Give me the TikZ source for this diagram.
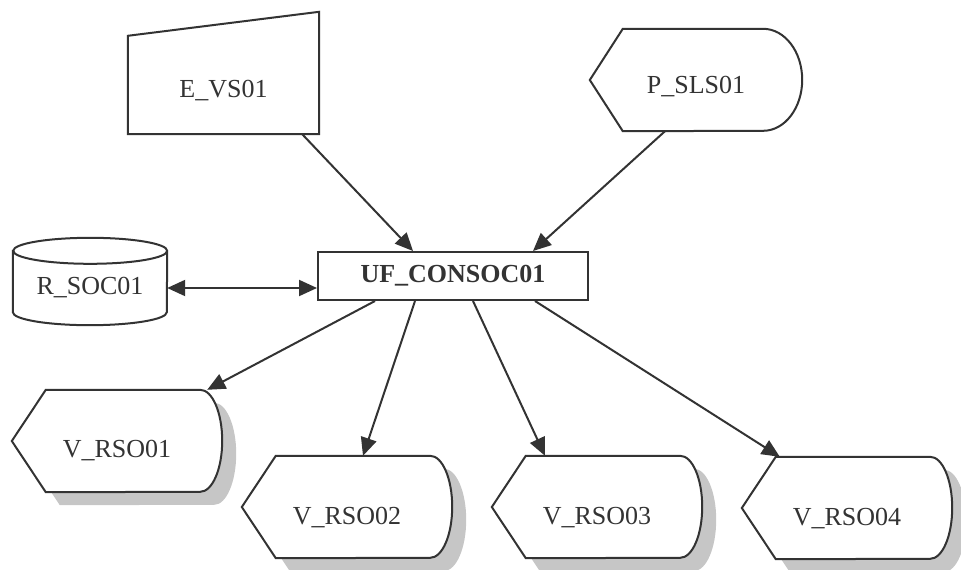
\documentclass[tikz,border=0pt]{standalone}
\usepackage{fontspec}
\setmainfont{Liberation Serif}
\usetikzlibrary{arrows.meta,backgrounds}
\newcommand{\dispoutline}[4]{%
  \path[#1] (#2.west) -- ([xshift=#3]#2.north west) -- ([xshift=-#4]#2.north east)
    arc[start angle=90,end angle=-90,x radius=#4,y radius=51pt]
    -- ([xshift=#3]#2.south west) -- cycle;}
\begin{document}
\begin{tikzpicture}[x=1pt,y=-1pt,
    every node/.style={font=\fontsize{26}{30}\selectfont,text=black!80},
    line/.style={draw=black!80,line width=2pt},
    link/.style={line,-{Triangle[length=18pt,width=16pt]}},
    frame/.style={inner sep=0pt,minimum height=102pt},
    vframe/.style={frame,minimum width=210pt},
    shade/.style={fill=gray!45,transform canvas={shift={(14pt,-13pt)}}},
    outline/.style={line,fill=white}]
\useasboundingbox (0,0) rectangle (961,570);
\node[minimum width=191pt,minimum height=86pt] (evs) at (223.5,91) {E\_VS01};
\node[frame,minimum width=212pt,label={[yshift=-7pt]center:P\_SLS01}] (psls) at (696,80) {};
\node[line,fill=white,minimum width=270pt,minimum height=48pt,font=\fontsize{26}{30}\selectfont\bfseries] (uf) at (453,276) {UF\_CONSOC01};
\node[minimum width=154pt,minimum height=74pt] (rsoc) at (90,288) {R\_SOC01};
\node[vframe,label={[yshift=-10pt]center:V\_RSO01}] (v1) at (117,441) {};
\node[vframe,label={[yshift=-11pt]center:V\_RSO02}] (v2) at (347,507) {};
\node[vframe,label={[yshift=-11pt]center:V\_RSO03}] (v3) at (597,507) {};
\node[vframe,label={[yshift=-11pt]center:V\_RSO04}] (v4) at (847,508) {};
\begin{scope}[on background layer]
\path[outline] (evs.south west) -- (evs.south east) -- ([yshift=36pt]evs.north east) -- ([yshift=12pt]evs.north west) -- cycle;
\path[outline] (rsoc.north west) -- ([yshift=13pt]rsoc.south west)
    arc[start angle=180,end angle=360,x radius=77pt,y radius=13pt] -- (rsoc.north east)
    arc[start angle=0,end angle=180,x radius=77pt,y radius=13pt] -- cycle;
\path[line] (rsoc.north east) arc[start angle=0,end angle=-180,x radius=77pt,y radius=13pt];
\dispoutline{outline}{psls}{33pt}{39pt}
\foreach \n in {v1,v2,v3,v4}{
  \dispoutline{shade}{\n}{34pt}{22pt}
  \dispoutline{outline}{\n}{34pt}{22pt}}
\end{scope}
\draw[link] ([xshift=-17pt]evs.south east) -- ([xshift=-40pt]uf.north);
\draw[link] ([xshift=-31pt]psls.south) -- ([xshift=80pt]uf.north);
\draw[link,{Triangle[length=18pt,width=16pt]}-{Triangle[length=18pt,width=16pt]}] (rsoc.east) -- (rsoc.east -| uf.west);
\draw[link] ([xshift=-78pt]uf.south) -- ([xshift=-15pt]v1.north east);
\draw[link] ([xshift=-38pt]uf.south) -- ([xshift=16pt]v2.north);
\draw[link] ([xshift=20pt]uf.south) -- ([xshift=-52pt]v3.north);
\draw[link] ([xshift=82pt]uf.south) -- ([xshift=38pt]v4.north west);
\end{tikzpicture}
\end{document}
